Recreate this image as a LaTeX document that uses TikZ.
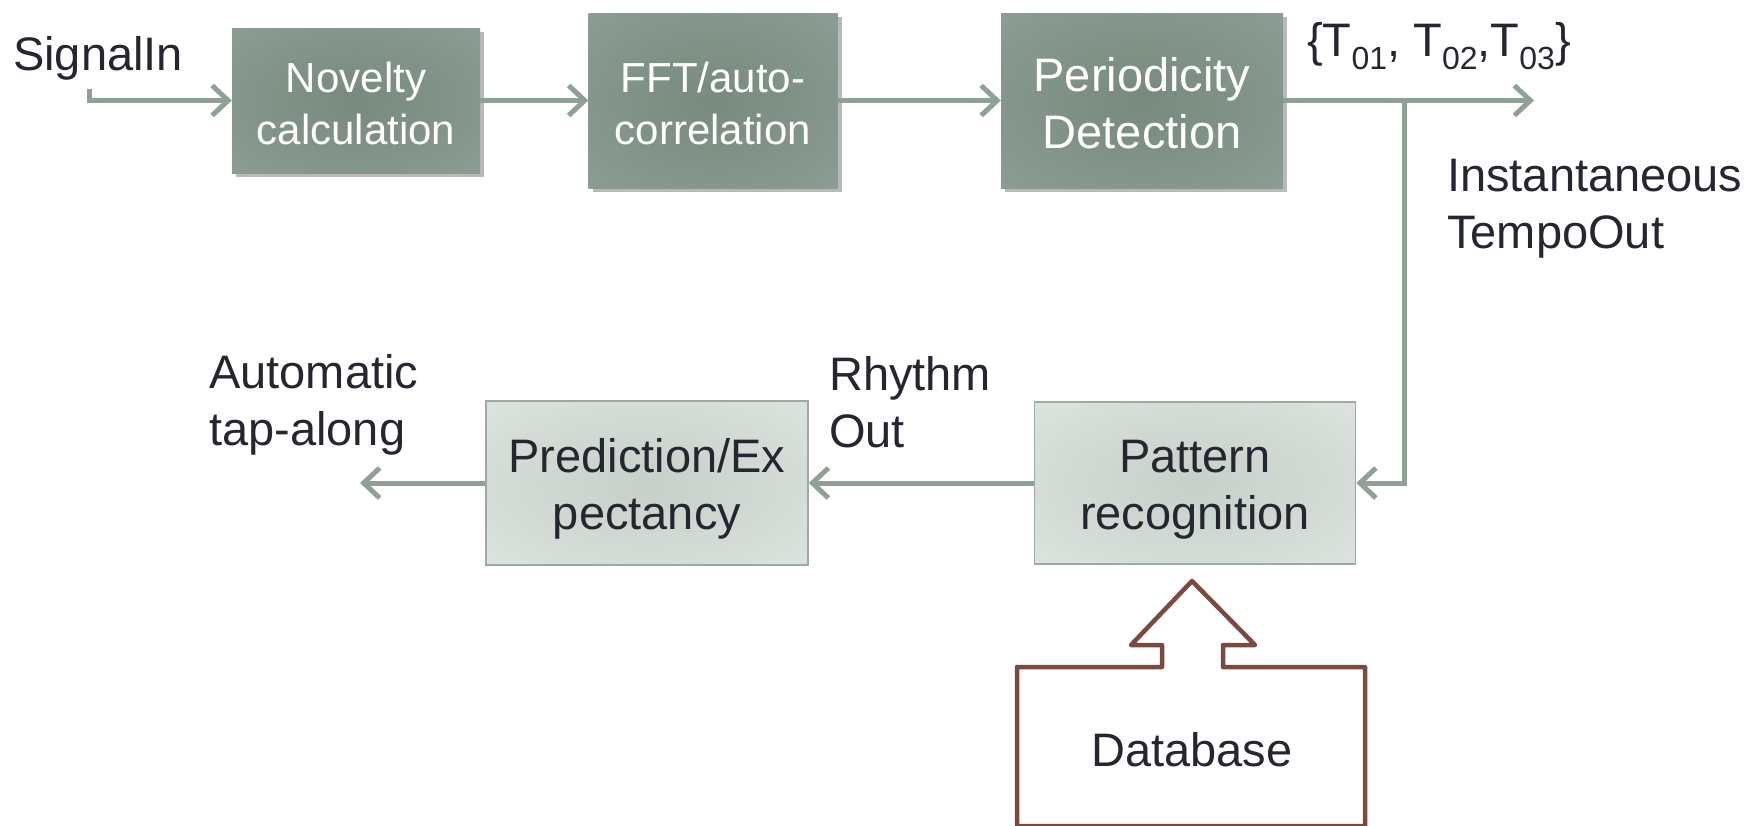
\documentclass[tikz,border=0pt]{standalone}
\usepackage{fontspec}
\setmainfont{Liberation Sans}
\usetikzlibrary{arrows.meta,shadows}
\definecolor{arrowc}{HTML}{8FA195}
\definecolor{darkin}{HTML}{778A7D}
\definecolor{darkout}{HTML}{94A59B}
\definecolor{lightin}{HTML}{C6CFC9}
\definecolor{lightout}{HTML}{E6EBE7}
\definecolor{lightborder}{HTML}{9CAAA1}
\definecolor{txt}{HTML}{262630}
\definecolor{dbc}{HTML}{7B4A3E}
\pgfdeclareradialshading{darkglow}{\pgfpoint{0bp}{0bp}}{color(0bp)=(darkin); color(50bp)=(darkout); color(71bp)=(darkout)}
\pgfdeclareradialshading{lightglow}{\pgfpoint{0bp}{0bp}}{color(0bp)=(lightin); color(50bp)=(lightout); color(71bp)=(lightout)}
\newcommand\subnum[1]{\raisebox{-0.28em}{\fontsize{32}{32}\selectfont #1}}
\newcommand\topline[1]{\rule{0pt}{#1}}
\begin{document}
\begin{tikzpicture}[x=1pt,y=-1pt,
  darkbox/.style={rectangle, inner sep=0pt, shading=darkglow,
    text=white, align=center,
    drop shadow={shadow xshift=4pt, shadow yshift=-4pt, opacity=0.55}},
  lightbox/.style={rectangle, inner sep=0pt, draw=lightborder, line width=1.5pt,
    shading=lightglow, text=txt, align=center,
    font=\fontsize{47}{57}\selectfont},
  lbl/.style={text=txt, align=left, inner sep=0pt, font=\fontsize{47}{57}\selectfont},
  arr/.style={draw=arrowc, line width=5pt, -{Straight Barb[length=16pt,width=30pt]}}
]
\useasboundingbox (0,0) rectangle (1752,825);

% top row
\node[darkbox, minimum width=248pt, minimum height=145pt, font=\fontsize{42}{52}\selectfont]
  (nov) at (356,100.5) {\topline{37pt}Novelty\\calculation};
\node[darkbox, minimum width=249pt, minimum height=175pt, font=\fontsize{42}{52}\selectfont]
  (fft) at (713,100.5) {\topline{37pt}FFT/auto-\\correlation};
\node[darkbox, minimum width=282pt, minimum height=175pt, font=\fontsize{47}{57}\selectfont]
  (per) at (1142,100.5) {\topline{39pt}Periodicity\\Detection};

% bottom row
\node[lightbox, minimum width=321pt, minimum height=162pt] (pat) at (1195,483) {\topline{46pt}Pattern\\recognition};
\node[lightbox, minimum width=322pt, minimum height=164pt] (pred) at (647,483) {\topline{46pt}Prediction/Ex\\pectancy};

% labels
\node[lbl, anchor=base west] (sig) at (13,70) {SignalIn};
\node[lbl, anchor=base west] (tset) at (1307,56) {\{T\subnum{01}, T\subnum{02},T\subnum{03}\}};
\node[lbl, anchor=west] (inst) at (1447,209) {Instantaneous\\TempoOut};
\node[lbl, anchor=west] (rout) at (829,402) {Rhythm\\Out};
\node[lbl, anchor=west] (tap) at (209,405) {Automatic\\tap-along};

% connectors
\coordinate (sinstart) at (89,89);
\coordinate (tout) at (1534,100.5);
\coordinate (branch) at (1404,100.5);
\coordinate (tapend) at (360,483);
\draw[arr] (sinstart) |- (nov.west);
\draw[arr] (nov.east) -- (fft.west);
\draw[arr] (fft.east) -- (per.west);
\draw[arr] (per.east) -- (tout);
\draw[arr] (branch) |- (pat.east);
\draw[arr] (pat.west) -- (pred.east);
\draw[arr] (pred.west) -- (tapend);

% database with block arrow
\draw[draw=dbc, line width=4.5pt, line join=round]
  (1017,826) -- (1017,667) -- (1162,667) -- (1162,645) -- (1131,645) -- (1192,581)
  -- (1255,645) -- (1223,645) -- (1223,667) -- (1365,667) -- (1365,826) -- cycle;
\node[lbl, anchor=center] (db) at (1192,750) {Database};
\end{tikzpicture}
\end{document}
